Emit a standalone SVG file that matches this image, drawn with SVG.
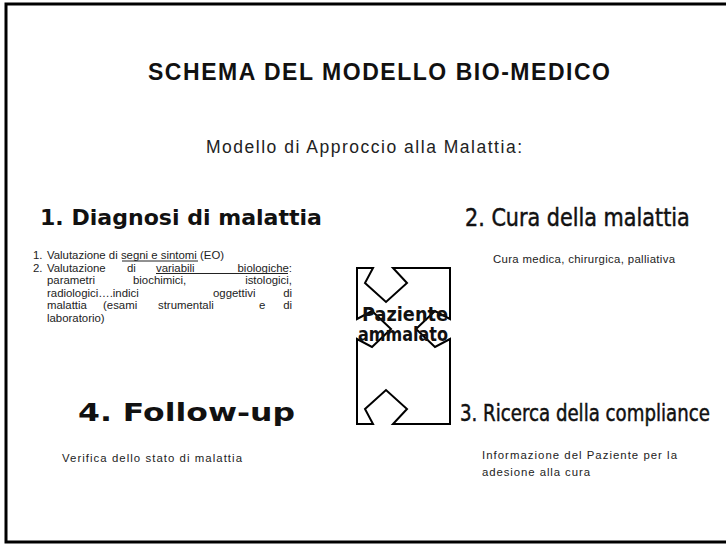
<svg xmlns="http://www.w3.org/2000/svg" width="726" height="545" viewBox="0 0 726 545">
<style>
.body{font-family:"Liberation Sans",Arial,sans-serif;font-size:11.4px;fill:#222}
.comic{font-family:"DejaVu Sans","Noto Sans",sans-serif;font-weight:bold;fill:#111}
.narrow{font-family:"DejaVu Sans","Noto Sans",sans-serif;fill:#111;stroke:#111;stroke-width:0.5}
.ul{stroke:#222;stroke-width:1}
</style>
<rect x="0" y="0" width="726" height="545" fill="#fff"/>
<path d="M760,4 H6 V542 H760" fill="none" stroke="#000" stroke-width="3"/>
<g id="title">
<text x="148" y="80" font-family="Liberation Sans,Arial,sans-serif" font-weight="bold" font-size="23" fill="#111" textLength="462" lengthAdjust="spacing">SCHEMA DEL MODELLO BIO-MEDICO</text>
<text x="206" y="153" font-family="Liberation Sans,Arial,sans-serif" font-size="17.5" fill="#222" textLength="316" lengthAdjust="spacing">Modello di Approccio alla Malattia:</text>
</g>
<g id="diagnosi">
<text class="comic" x="40" y="225" font-size="21" textLength="282" lengthAdjust="spacingAndGlyphs">1. Diagnosi di malattia</text>
<text class="body" y="259"><tspan x="33">1.</tspan><tspan x="47">Valutazione di </tspan><tspan>segni e sintomi</tspan><tspan> (EO)</tspan></text>
<line class="ul" x1="122" y1="261" x2="198" y2="261"/>
<text class="body" y="271.5"><tspan x="33">2.</tspan><tspan x="47">Valutazione</tspan><tspan x="127">di</tspan><tspan x="156">variabili</tspan><tspan x="292" text-anchor="end">biologiche:</tspan></text>
<line class="ul" x1="156" y1="273.5" x2="288" y2="273.5"/>
<text class="body" y="284"><tspan x="47">parametri</tspan><tspan x="133">biochimici,</tspan><tspan x="292" text-anchor="end">istologici,</tspan></text>
<text class="body" y="296.5"><tspan x="47">radiologici….indici</tspan><tspan x="213">oggettivi</tspan><tspan x="292" text-anchor="end">di</tspan></text>
<text class="body" y="309"><tspan x="47">malattia</tspan><tspan x="103">(esami</tspan><tspan x="158">strumentali</tspan><tspan x="259">e</tspan><tspan x="292" text-anchor="end">di</tspan></text>
<text class="body" y="321.5"><tspan x="47">laboratorio)</tspan></text>
</g>
<g id="cura">
<text class="narrow" transform="translate(465,226) scale(0.865,1)" font-size="24">2. Cura della malattia</text>
<text class="body" x="493" y="263" textLength="182" lengthAdjust="spacing">Cura medica, chirurgica, palliativa</text>
</g>
<g id="paziente">
<path d="M357,268 H373 L365,283 L386,302 L407,283 L393,268 H450 V319 L435,311 L416,329 L435,347 L450,339 V424 H393 L407,409 L386,390 L365,409 L373,424 H357 V339 L372,347 L391,329 L372,311 L357,319 Z" fill="#fff" stroke="#000" stroke-width="2" stroke-linejoin="miter"/>
<text class="comic" x="362" y="321" font-size="19" textLength="86" lengthAdjust="spacingAndGlyphs">Paziente</text>
<text class="comic" x="358" y="341" font-size="19" textLength="90" lengthAdjust="spacingAndGlyphs">ammalato</text>
</g>
<g id="followup">
<text class="comic" x="78" y="421" font-size="25" textLength="217" lengthAdjust="spacingAndGlyphs">4. Follow-up</text>
<text class="body" x="62" y="462" font-size="12.3" textLength="180" lengthAdjust="spacing">Verifica dello stato di malattia</text>
</g>
<g id="compliance">
<text class="narrow" transform="translate(460,421) scale(0.79,1)" font-size="23">3. Ricerca della compliance</text>
<text class="body" x="482" y="459" font-size="11.8" textLength="195" lengthAdjust="spacing">Informazione del Paziente per la</text>
<text class="body" x="482" y="476" font-size="11.8" textLength="108" lengthAdjust="spacing">adesione alla cura</text>
</g>
<g id="connectors"></g>
</svg>
